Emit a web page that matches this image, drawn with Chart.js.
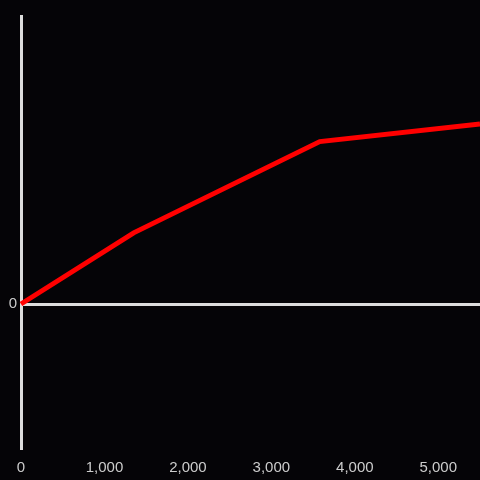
<!DOCTYPE html>
<html>
<head>
<meta charset="utf-8">
<script src="https://cdn.jsdelivr.net/npm/chart.js@4/dist/chart.umd.min.js"></script>
<style>
  html, body { margin: 0; padding: 0; background: #050407; }
  canvas { display: block; }
</style>
</head>
<body>
<canvas id="chart" width="480" height="480"></canvas>
<script>
// data
const xValues = [0, 1350, 3580, 5500];
const yValues = [0, 0.247, 0.564, 0.625];
const xTickValues = [0, 1000, 2000, 3000, 4000, 5000];
const yTickValues = [0];

const axisColor = '#dddddd';
const textColor = '#cccccc';

const points = xValues.map((x, i) => ({ x, y: yValues[i] }));

new Chart(document.getElementById('chart').getContext('2d'), {
    type: 'line',
    data: {
        datasets: [{
            data: points,
            borderColor: '#ff0000',
            borderWidth: 5,
            pointRadius: 0,
            tension: 0,
            fill: false,
            clip: false
        }]
    },
    options: {
        responsive: false,
        animation: false,
        layout: { padding: { top: 16, right: 0, left: 0, bottom: 0 } },
        plugins: { legend: { display: false }, tooltip: { enabled: false } },
        scales: {
            x: {
                type: 'linear',
                min: 0,
                max: 5500,
                afterBuildTicks: s => { s.ticks = xTickValues.map(v => ({ value: v })); },
                afterFit: s => { s.height = 32; },
                ticks: {
                    color: textColor,
                    font: { family: 'Liberation Sans', size: 15 },
                    padding: 3,
                    maxRotation: 0,
                    callback: v => v.toLocaleString('en-US')
                },
                grid: { display: false },
                border: { display: false }
            },
            y: {
                min: -0.5,
                max: 1,
                afterBuildTicks: s => { s.ticks = yTickValues.map(v => ({ value: v })); },
                afterFit: s => { s.width = 21; },
                ticks: {
                    color: textColor,
                    font: { family: 'Liberation Sans', size: 15 },
                    padding: 4
                },
                grid: { color: axisColor, lineWidth: 3, drawTicks: false },
                border: { display: true, color: axisColor, width: 3 }
            }
        }
    }
});
</script>
</body>
</html>
